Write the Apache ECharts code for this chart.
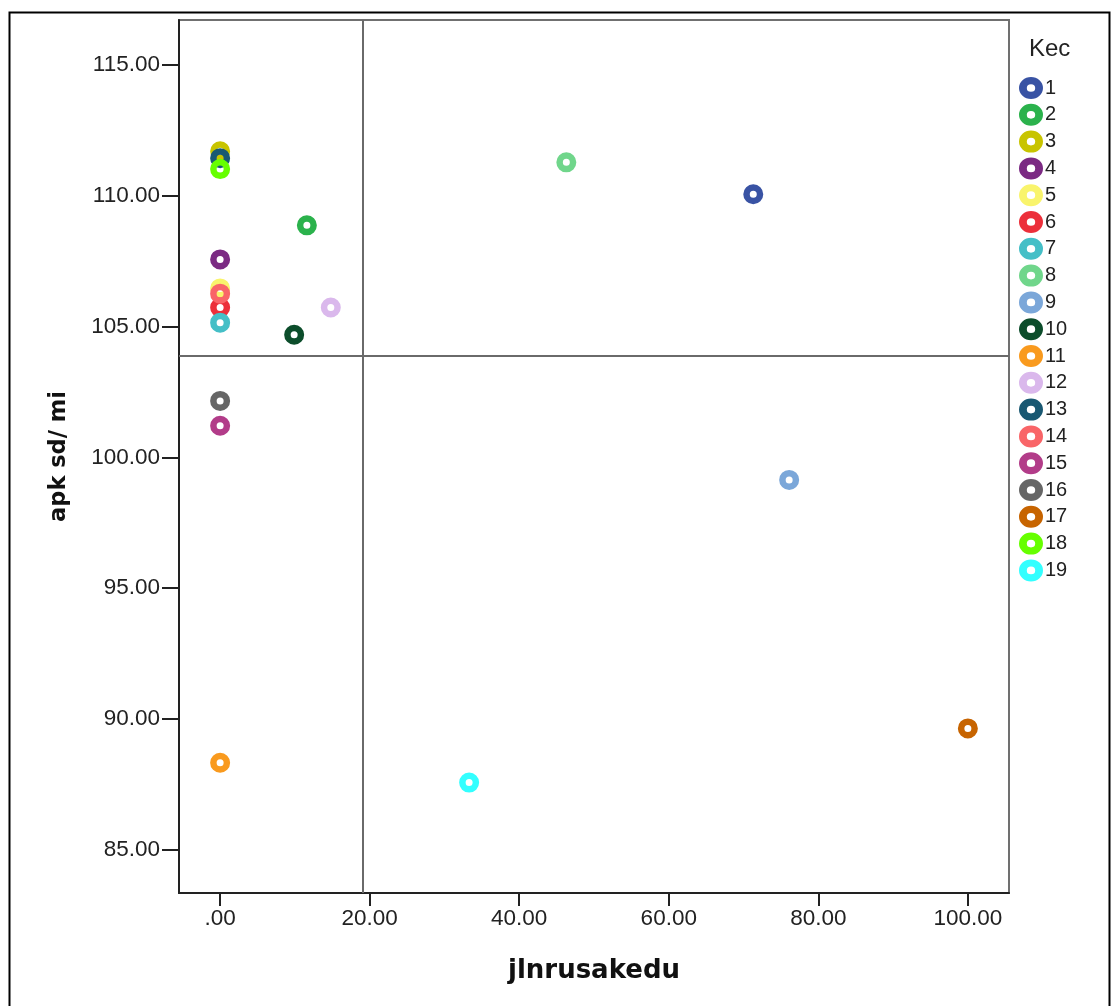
<!DOCTYPE html>
<html>
<head>
<meta charset="utf-8">
<title>apk sd/ mi vs jlnrusakedu</title>
<script src="https://cdn.jsdelivr.net/npm/echarts@6/dist/echarts.min.js"></script>
<style>
  html, body { margin: 0; padding: 0; background: #fff; }
  #chart { width: 1114px; height: 1006px; }
</style>
</head>
<body>
<div id="chart"></div>
<script>
// Kecamatan codes (legend entries)
const kec = ['1','2','3','4','5','6','7','8','9','10','11','12','13','14','15','16','17','18','19'];
// jlnrusakedu per kecamatan
const jlnrusakedu = [71.3, 11.6, 0, 0, 0, 0, 0, 46.3, 76.1, 9.9, 0, 14.8, 0, 0, 0, 0, 100, 0, 33.3];
// apk sd/ mi per kecamatan
const apkSdMi = [110.06, 108.87, 111.70, 107.57, 106.46, 105.73, 105.15, 111.28, 99.14, 104.69,
                 88.33, 105.73, 111.44, 106.26, 101.21, 102.16, 89.64, 111.02, 87.57];
// marker colours per kecamatan
const kecColors = ['#3953a4', '#2bb24c', '#c8c400', '#7b2a83', '#f9f46c', '#ec2f3a', '#45bfc7',
                   '#70d68b', '#7ba7d9', '#0c4d2b', '#f99a1e', '#dab8ec', '#195872', '#f96568',
                   '#b23c89', '#666666', '#c76400', '#66ff00', '#33ffff'];
// tick positions
const xTicks = [0, 20, 40, 60, 80, 100];
const yTicks = [85, 90, 95, 100, 105, 110, 115];

// overall means drawn as reference lines
const meanX = jlnrusakedu.reduce((a, b) => a + b, 0) / jlnrusakedu.length;
const meanY = apkSdMi.reduce((a, b) => a + b, 0) / apkSdMi.length;

// ring marker with a see-through hole
const ring = 'path://M0,-10 A10,10 0 1 1 0,10 A10,10 0 1 1 0,-10 Z M0,-3.5 A3.5,3.5 0 1 0 0,3.5 A3.5,3.5 0 1 0 0,-3.5 Z';

const fmt = v => { const s = v.toFixed(2); return s.charAt(0) === '0' ? s.slice(1) : s; };
const tickFont = { fontFamily: 'Liberation Sans', fontSize: 22.5, color: '#222' };

const series = kec.map((name, i) => ({
  name: name,
  type: 'scatter',
  symbol: ring,
  symbolSize: 20,
  symbolKeepAspect: false,
  itemStyle: { color: kecColors[i], opacity: 1 },
  emphasis: { disabled: true },
  data: [[jlnrusakedu[i], apkSdMi[i]]],
  z: 3
}));

series.push({
  name: 'mean',
  type: 'scatter',
  data: [],
  silent: true,
  markLine: {
    silent: true,
    symbol: 'none',
    animation: false,
    label: { show: false },
    lineStyle: { color: '#6a6a6a', width: 2, type: 'solid' },
    data: [{ xAxis: meanX }, { yAxis: meanY }]
  },
  z: 2
});

const chart = echarts.init(document.getElementById('chart'), null, { renderer: 'canvas' });
chart.setOption({
  animation: false,
  backgroundColor: '#fff',
  grid: {
    left: 179, right: 105, top: 20, bottom: 113,
    show: true, borderColor: '#707070', borderWidth: 2, backgroundColor: 'transparent'
  },
  title: {
    text: 'Kec', left: 1024, top: 32,
    textStyle: { fontFamily: 'Liberation Sans', fontSize: 24, fontWeight: 'normal', color: '#222' }
  },
  legend: {
    orient: 'vertical', left: 1019, top: 77, padding: 0,
    itemWidth: 24, itemHeight: 22, itemGap: 4.8,
    symbolKeepAspect: false,
    selectedMode: false,
    textStyle: { fontFamily: 'Liberation Sans', fontSize: 20, color: '#222', padding: [0, 0, 0, -3] },
    data: kec.map(n => ({ name: n, icon: ring }))
  },
  xAxis: {
    type: 'value', min: -5.5, max: 105.5,
    name: 'jlnrusakedu', nameLocation: 'middle', nameGap: 65,
    nameTextStyle: { fontFamily: 'DejaVu Sans', fontWeight: 'bold', fontSize: 26, color: '#111' },
    axisLine: { show: true, onZero: false, lineStyle: { color: '#222', width: 2 } },
    axisTick: { show: true, length: 13, customValues: xTicks, lineStyle: { color: '#222', width: 2 } },
    axisLabel: { customValues: xTicks, margin: 14, formatter: fmt, ...tickFont },
    splitLine: { show: false }
  },
  yAxis: {
    type: 'value', min: 83.35, max: 116.72,
    name: 'apk sd/ mi', nameLocation: 'middle', nameGap: 108, nameRotate: 90,
    nameTextStyle: { fontFamily: 'DejaVu Sans', fontWeight: 'bold', fontSize: 22.5, color: '#111' },
    axisLine: { show: true, onZero: false, lineStyle: { color: '#222', width: 2 } },
    axisTick: { show: true, length: 17, customValues: yTicks, lineStyle: { color: '#222', width: 2 } },
    axisLabel: { customValues: yTicks, margin: 19, formatter: fmt, ...tickFont },
    splitLine: { show: false }
  },
  graphic: [{
    type: 'rect', left: 7, top: 10, silent: true,
    shape: { width: 1100, height: 1010 },
    style: { fill: 'none', stroke: '#000', lineWidth: 2 }
  }],
  series: series
});
</script>
</body>
</html>
